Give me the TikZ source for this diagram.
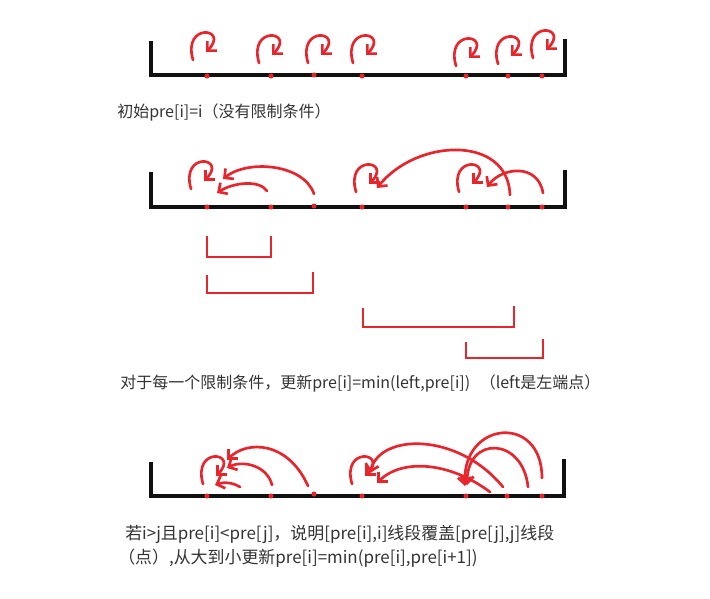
\documentclass[tikz,border=0pt]{standalone}
\usepackage{fontspec}
\setmainfont{Noto Sans CJK SC}
\usepackage{tikz}
\usetikzlibrary{arrows.meta}
\definecolor{Ink}{HTML}{E8242C}
\definecolor{Bar}{HTML}{111111}
\definecolor{Caption}{HTML}{333333}
\newcommand{\selfcurl}[3]{%
  \draw[pointer] ([shift={(#2-12,#3-12)}]#1.center) .. controls +(-11,-38) and +(24,-24) .. ([shift={(#2+1,#3-20)}]#1.center);}
\tikzset{
  axis/.style={draw=Bar,line width=3pt},
  dot/.style={circle,fill=Ink,inner sep=0pt,minimum size=3.8pt},
  pointer/.style={-{Straight Barb[length=5pt,width=10pt]},draw=Ink,line width=2pt,
              line cap=round,line join=round},
  span/.style={draw=Ink,line width=2pt},
  caption/.style={anchor=base west,font=\fontsize{12}{15}\selectfont,text=Caption,inner sep=0pt},
  bigcaption/.style={caption,font=\fontsize{12.7}{15}\selectfont}
}

\begin{document}
\begin{tikzpicture}[x=0.75pt,y=-0.75pt]
  \useasboundingbox (0,0) rectangle (710,599);
  % initial state
  \draw[axis] (151,41) -- (151,75) -- (565,75) -- (565,39);
  \node[dot] (a1) at (207,76) {};
  \node[dot] (a2) at (271,76) {};
  \node[dot] (a3) at (314,75) {};
  \node[dot] (a4) at (362,76) {};
  \node[dot] (a5) at (466,76) {};
  \node[dot] (a6) at (508,76) {};
  \node[dot] (a7) at (542,76) {};
  \selfcurl{a1}{-2}{-4}
  \selfcurl{a2}{0}{-1}
  \selfcurl{a3}{6}{0}
  \selfcurl{a4}{3}{-1}
  \selfcurl{a5}{2}{2}
  \selfcurl{a6}{2}{0}
  \selfcurl{a7}{3}{-6}
  \node[caption] (init) at (117,118) {初始pre[i]=i（没有限制条件）};

  % one pass over the constraints
  \draw[axis] (151,172) -- (151,207) -- (565,207) -- (565,170);
  \node[dot] (b1) at (207,207) {};
  \node[dot] (b2) at (271,207) {};
  \node[dot] (b3) at (314,206) {};
  \node[dot] (b4) at (362,207) {};
  \node[dot] (b5) at (466,207) {};
  \node[dot] (b6) at (508,207) {};
  \node[dot] (b7) at (542,207) {};
  \selfcurl{b1}{-4}{-6}
  \draw[pointer] ([shift={(0,-12)}]b3.center) .. controls +(-10,-30) and +(25,-20) .. ([shift={(16,-28)}]b1.center);
  \draw[pointer] ([shift={(-4,-16)}]b2.center) .. controls +(-8,-12) and +(15,-10) .. ([shift={(10,-14)}]b1.center);
  \selfcurl{b4}{6}{-3}
  \draw[pointer] ([shift={(2,-12)}]b6.center) .. controls +(-2,-60) and +(40,-50) .. ([shift={(15,-19)}]b4.center);
  \selfcurl{b5}{5}{-3}
  \draw[pointer] ([shift={(1,-14)}]b7.center) .. controls +(-5,-30) and +(15,-20) .. ([shift={(21,-20)}]b5.center);

  % the constraints
  \draw[span] (207,236) -- (207,257) -- (271,257) -- (271,236);
  \draw[span] (207,275) -- (207,293) -- (313,293) -- (313,272);
  \draw[span] (363,308) -- (363,327) -- (514,327) -- (514,306);
  \draw[span] (466,342) -- (466,358) -- (543,358) -- (543,339);
  \node[caption] (update) at (120,388) {对于每一个限制条件，更新pre[i]=min(left,pre[i])\hspace{0.6em}（left是左端点）};

  % sweep from right to left
  \draw[axis] (151,462) -- (151,496) -- (564,496) -- (564,459);
  \node[dot] (c1) at (207,496) {};
  \node[dot] (c2) at (271,496) {};
  \node[dot] (c3) at (314,494) {};
  \node[dot] (c4) at (362,496) {};
  \node[dot] (c5) at (466,496) {};
  \node[dot] (c6) at (507,496) {};
  \node[dot] (c7) at (542,496) {};
  \selfcurl{c1}{8}{0}
  \draw[pointer] ([shift={(-6,-8)}]c3.center) .. controls +(-20,-45) and +(20,-20) .. ([shift={(20,-36)}]c1.center);
  \draw[pointer] ([shift={(1,-11)}]c2.center) .. controls +(-5,-20) and +(15,-8) .. ([shift={(20,-28)}]c1.center);
  \draw[pointer] ([shift={(33,-9)}]c1.center) .. controls +(-8,-5) and +(8,-3) .. ([shift={(8,-11)}]c1.center);
  \selfcurl{c4}{2}{0}
  \draw[pointer] ([shift={(-4,-9)}]c6.center) .. controls +(-45,-55) and +(10,-40) .. ([shift={(8,-23)}]c4.center);
  \draw[pointer] ([shift={(-17,-4)}]c6.center) .. controls +(-40,-30) and +(25,-25) .. ([shift={(15,-13)}]c4.center);
  \draw[pointer] ([shift={(0,-18)}]c7.center) .. controls +(0,-65) and +(-3,-65) .. ([shift={(-1,-10)}]c5.center);
  \draw[pointer] ([shift={(-14,-9)}]c7.center) .. controls +(-5,-50) and +(0,-50) .. ([shift={(1,-11)}]c5.center);
  \node[bigcaption] (cover) at (125,539) {若i>j且pre[i]<pre[j]，说明[pre[i],i]线段覆盖[pre[j],j]线段};
  \node[bigcaption] (sweep) at (118,563) {（点）,从大到小更新pre[i]=min(pre[i],pre[i+1])};
\end{tikzpicture}
\end{document}
